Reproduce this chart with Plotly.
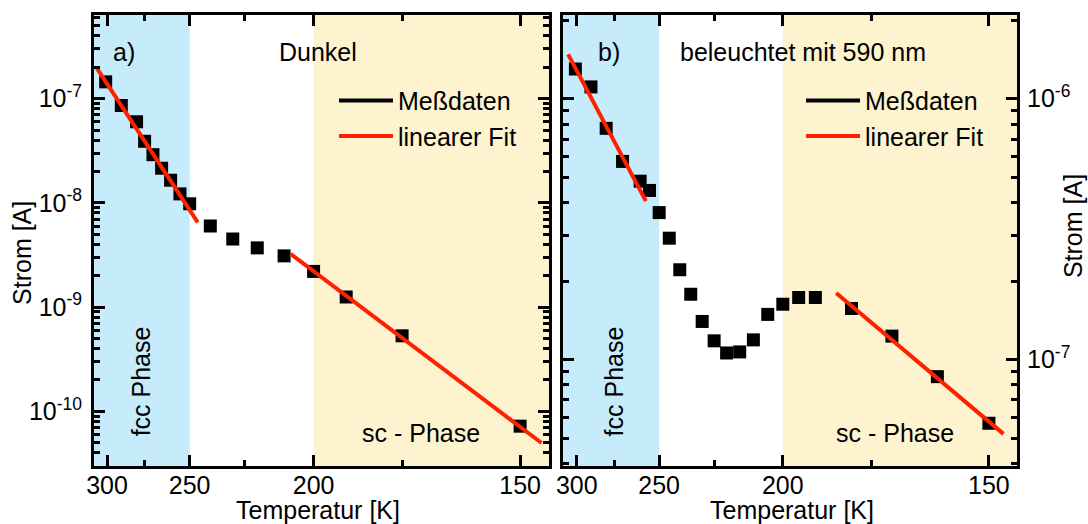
import math
import plotly.graph_objects as go

# ---------------- data ----------------
T_dark = [301, 290, 280, 275, 270, 265, 260, 255, 250, 240, 230, 220, 210, 200, 190, 175, 150]
I_dark = [1.45e-7, 8.6e-8, 6.0e-8, 3.9e-8, 2.9e-8, 2.15e-8, 1.65e-8, 1.22e-8, 9.8e-9,
          6.0e-9, 4.5e-9, 3.7e-9, 3.1e-9, 2.2e-9, 1.25e-9, 5.3e-10, 7.2e-11]
fit_dark_1_T = [308, 246]
fit_dark_1_I = [2.0e-7, 6.5e-9]
fit_dark_2_T = [207.7, 146.2]
fit_dark_2_I = [3.24e-9, 4.96e-11]

T_light = [301, 290, 280, 270, 260, 255, 250, 245, 240, 235, 230, 225, 220, 215, 210, 205,
           200, 195, 190, 180, 170, 160, 150]
I_light = [1.30e-6, 1.11e-6, 7.7e-7, 5.75e-7, 4.83e-7, 4.45e-7, 3.66e-7, 2.92e-7, 2.21e-7,
           1.78e-7, 1.40e-7, 1.18e-7, 1.06e-7, 1.07e-7, 1.19e-7, 1.49e-7, 1.63e-7, 1.73e-7,
           1.73e-7, 1.57e-7, 1.23e-7, 8.6e-8, 5.7e-8]
fit_light_1_T = [306.4, 256.9]
fit_light_1_I = [1.48e-6, 4.05e-7]
fit_light_2_T = [184.1, 147.4]
fit_light_2_I = [1.80e-7, 5.19e-8]

T_major = [300, 250, 200, 150]
T_minor = [275, 225, 175]
FCC_T = 250
SC_T = 200

y_major_dark = [1e-10, 1e-9, 1e-8, 1e-7]
y_major_light = [1e-7, 1e-6]


def inv(ts):
    return [1000.0 / t for t in ts]


def minor_log(n0, n1):
    return [k * 10.0 ** n for n in range(n0, n1 + 1) for k in range(2, 10)]


def sup_label(v):
    e = int(round(math.log10(v)))
    return "10<sup>%d</sup>" % e


FONT = "Liberation Sans, Arial, sans-serif"
BLUE = "#C6EBFB"
YELLOW = "#FDF3CE"
RED = "#FF2000"

fig = go.Figure()

# ---------- left panel ----------
fig.add_trace(go.Scatter(x=inv(T_dark), y=I_dark, mode="markers",
                         marker=dict(symbol="square", size=13, color="black"),
                         showlegend=False, xaxis="x", yaxis="y"))
fig.add_trace(go.Scatter(x=[None], y=[None], mode="lines", name="Meßdaten",
                         line=dict(color="black", width=4), legend="legend",
                         xaxis="x", yaxis="y"))
fig.add_trace(go.Scatter(x=inv(fit_dark_1_T), y=fit_dark_1_I, mode="lines",
                         name="linearer Fit", line=dict(color=RED, width=4),
                         legend="legend", xaxis="x", yaxis="y"))
fig.add_trace(go.Scatter(x=inv(fit_dark_2_T), y=fit_dark_2_I, mode="lines",
                         showlegend=False, line=dict(color=RED, width=4),
                         xaxis="x", yaxis="y"))

# ---------- right panel ----------
fig.add_trace(go.Scatter(x=inv(T_light), y=I_light, mode="markers",
                         marker=dict(symbol="square", size=13, color="black"),
                         showlegend=False, xaxis="x2", yaxis="y2"))
fig.add_trace(go.Scatter(x=[None], y=[None], mode="lines", name="Meßdaten",
                         line=dict(color="black", width=4), legend="legend2",
                         xaxis="x2", yaxis="y2"))
fig.add_trace(go.Scatter(x=inv(fit_light_1_T), y=fit_light_1_I, mode="lines",
                         name="linearer Fit", line=dict(color=RED, width=4),
                         legend="legend2", xaxis="x2", yaxis="y2"))
fig.add_trace(go.Scatter(x=inv(fit_light_2_T), y=fit_light_2_I, mode="lines",
                         showlegend=False, line=dict(color=RED, width=4),
                         xaxis="x2", yaxis="y2"))

xr1 = [3.228, 6.900]
xr2 = [3.222, 6.894]

common_x = dict(
    tickmode="array", tickvals=inv(T_major), ticktext=[str(t) for t in T_major],
    ticks="inside", ticklen=11, tickwidth=3, tickcolor="black",
    showline=True, linewidth=3, linecolor="black", mirror="allticks",
    showgrid=False, zeroline=False, ticklabelstandoff=-5,
    minor=dict(tickmode="array", tickvals=inv(T_minor), ticks="inside", ticklen=6,
               tickwidth=3, tickcolor="black", showgrid=False),
    tickfont=dict(family=FONT, size=25, color="black"),
)
common_y = dict(
    type="log", tickmode="array",
    ticks="inside", ticklen=11, tickwidth=3, tickcolor="black",
    showline=True, linewidth=3, linecolor="black", mirror="allticks",
    showgrid=False, zeroline=False,
    tickfont=dict(family=FONT, size=25, color="black"),
)

legend_common = dict(xanchor="left", yanchor="top", bgcolor="rgba(0,0,0,0)",
                     borderwidth=0, itemwidth=54, tracegroupgap=0,
                     font=dict(family=FONT, size=25, color="black"))

fig.update_layout(
    width=1088, height=524,
    margin=dict(l=94, r=71, t=13, b=58),
    paper_bgcolor="white", plot_bgcolor="white",
    font=dict(family=FONT, size=25, color="black"),
    xaxis=dict(domain=[0, 0.4930], range=xr1, anchor="y", **common_x),
    xaxis2=dict(domain=[0.5081, 1], range=xr2, anchor="y2", **common_x),
    yaxis=dict(domain=[0, 1], range=[-10.525, -6.197], anchor="x",
               tickvals=y_major_dark, ticktext=[sup_label(v) for v in y_major_dark],
               ticklabelstandoff=4,
               minor=dict(tickmode="array", tickvals=minor_log(-11, -7), ticks="inside",
                          ticklen=6, tickwidth=3, tickcolor="black", showgrid=False),
               **common_y),
    yaxis2=dict(domain=[0, 1], range=[-7.408, -5.679], anchor="x2", side="right",
                tickvals=y_major_light, ticktext=[sup_label(v) for v in y_major_light],
                ticklabelstandoff=2,
                minor=dict(tickmode="array", tickvals=minor_log(-8, -6), ticks="inside",
                           ticklen=6, tickwidth=3, tickcolor="black", showgrid=False),
                **common_y),
    legend=dict(x=0.2600, y=0.8610, **legend_common),
    legend2=dict(x=0.7660, y=0.8610, **legend_common),
)

# phase background regions
for xa, ya, xr in (("x", "y", xr1), ("x2", "y2", xr2)):
    fig.add_shape(type="rect", xref=xa, yref=ya + " domain", x0=xr[0], x1=1000.0 / FCC_T,
                  y0=0, y1=1, fillcolor=BLUE, line_width=0, layer="below")
    fig.add_shape(type="rect", xref=xa, yref=ya + " domain", x0=1000.0 / SC_T, x1=xr[1],
                  y0=0, y1=1, fillcolor=YELLOW, line_width=0, layer="below")


def ann(text, x, y, angle=0, xanchor="center", yanchor="middle"):
    fig.add_annotation(text=text, x=x, y=y, xref="paper", yref="paper",
                       showarrow=False, textangle=angle, xanchor=xanchor,
                       yanchor=yanchor, font=dict(family=FONT, size=25, color="black"))


ann("a)", 0.0325, 0.918)
ann("Dunkel", 0.2427, 0.918)
ann("fcc Phase", 0.0509, 0.1876, angle=-90)
ann("sc - Phase", 0.3543, 0.0728)
ann("b)", 0.558, 0.918)
ann("beleuchtet mit 590 nm", 0.768, 0.918)
ann("fcc Phase", 0.5634, 0.1876, angle=-90)
ann("sc - Phase", 0.8678, 0.0728)
ann("Temperatur [K]", 0.2427, -0.0970)
ann("Temperatur [K]", 0.7562, -0.0970)
ann("Strom [A]", -0.078, 0.4724, angle=-90)
ann("Strom [A]", 1.0607, 0.532, angle=-90)

fig.write_html("out.html")
